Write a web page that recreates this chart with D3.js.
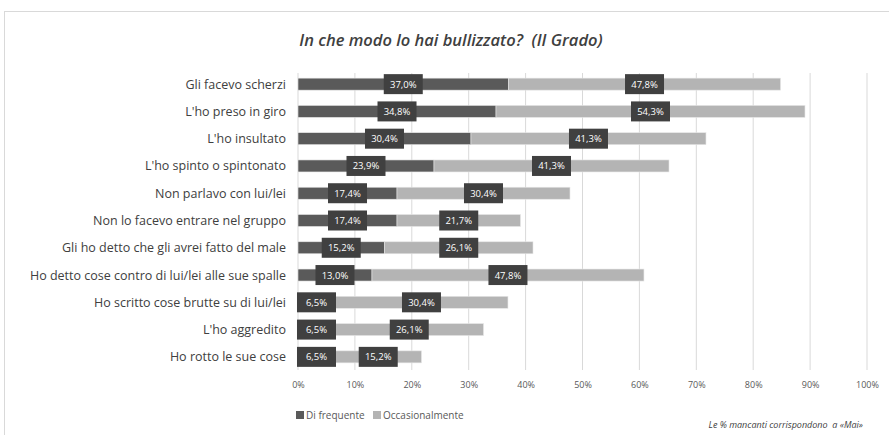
<!DOCTYPE html>
<html><head><meta charset="utf-8">
<script src="https://cdn.jsdelivr.net/npm/d3@7"></script>
<style>body{margin:0;background:#fff;}svg{display:block;font-family:"Open Sans",sans-serif;}</style>
</head><body><svg id="c" width="889" height="435"></svg>
<script>
const categories = ["Gli facevo scherzi","L'ho preso in giro","L'ho insultato","L'ho spinto o spintonato","Non parlavo con lui/lei","Non lo facevo entrare nel gruppo","Gli ho detto che gli avrei fatto del male","Ho detto cose contro di lui/lei alle sue spalle","Ho scritto cose brutte su di lui/lei","L'ho aggredito","Ho rotto le sue cose"];
const diFrequente = [37.0,34.8,30.4,23.9,17.4,17.4,15.2,13.0,6.5,6.5,6.5];
const occasionalmente = [47.8,54.3,41.3,41.3,30.4,21.7,26.1,47.8,30.4,26.1,15.2];
const seriesNames = ["Di frequente","Occasionalmente"];
const tickValues = [0,10,20,30,40,50,60,70,80,90,100];
const title = "In che modo lo hai bullizzato?  (II Grado)";
const note = "Le % mancanti corrispondono  a «Mai»";

const svg = d3.select("#c");
const colors = ["#5a5a5a","#b4b4b4"];
svg.append("rect").attr("x",4.5).attr("y",11.5).attr("width",900).attr("height",440).attr("fill","none").attr("stroke","#d9d9d9");

const x = d3.scaleLinear().domain([0,100]).range([298,867]);
const y = d3.scaleBand().domain(categories).range([70.5,370.5]).paddingInner(0.56).paddingOuter(0.28);

svg.append("text").attr("x",451).attr("y",46).attr("text-anchor","middle").style("white-space","pre")
  .attr("font-size",16.5).attr("font-style","italic").attr("font-weight","600").attr("fill","#404040").text(title);

// grid
svg.append("g").selectAll("line").data(tickValues).join("line")
  .attr("x1",d=>x(d)).attr("x2",d=>x(d)).attr("y1",73).attr("y2",370)
  .attr("stroke","#d9d9d9").attr("stroke-width",1);

const fmt = v => v.toFixed(1).replace(".",",")+"%";
const rows = categories.map((c,i)=>({c, segs:[{s:0,v:diFrequente[i]},{s:1,v:occasionalmente[i]}]}));
rows.forEach(r=>{let acc=0; r.segs.forEach(s=>{s.x0=acc; acc+=s.v; s.x1=acc;});});

const g = svg.append("g");
rows.forEach(r=>{
  r.segs.forEach(s=>{
    g.append("rect").attr("x",x(s.x0)).attr("y",y(r.c)).attr("width",x(s.x1)-x(s.x0)).attr("height",y.bandwidth())
      .attr("fill",colors[s.s]).attr("stroke","#e6e6e6").attr("stroke-width",0.6);
  });
});
rows.forEach(r=>{
  r.segs.forEach(s=>{
    const cx = x((s.x0+s.x1)/2), cy = y(r.c)+y.bandwidth()/2;
    g.append("rect").attr("x",cx-19.5).attr("y",cy-10).attr("width",39).attr("height",20).attr("fill","#404040");
    g.append("text").attr("x",cx).attr("y",cy+3.5).attr("text-anchor","middle").attr("font-size",9.5).attr("fill","#ffffff").text(fmt(s.v));
  });
});

// category labels
svg.append("g").selectAll("text").data(categories).join("text")
  .attr("x",286).attr("y",d=>y(d)+y.bandwidth()/2+4.5).attr("text-anchor","end")
  .attr("font-size",12.5).attr("fill","#404040").text(d=>d);

// x axis
const ax = svg.append("g").attr("transform","translate(0,370)")
  .call(d3.axisBottom(x).tickValues(tickValues).tickFormat(d=>d+"%").tickSize(0).tickPadding(12));
ax.select(".domain").remove();
ax.selectAll("text").attr("font-size",9).attr("fill","#595959").attr("font-family","Open Sans, sans-serif");

// legend
const lg = svg.append("g");
const legX = [296,373];
seriesNames.forEach((n,i)=>{
  lg.append("rect").attr("x",legX[i]).attr("y",411).attr("width",8).attr("height",8).attr("fill",colors[i]);
  lg.append("text").attr("x",legX[i]+10).attr("y",419).attr("font-size",10).attr("fill","#595959").text(n);
});
svg.append("text").attr("x",863).attr("y",428).attr("text-anchor","end").style("white-space","pre").attr("font-size",9).attr("font-style","italic").attr("fill","#404040").text(note);
</script></body></html>
